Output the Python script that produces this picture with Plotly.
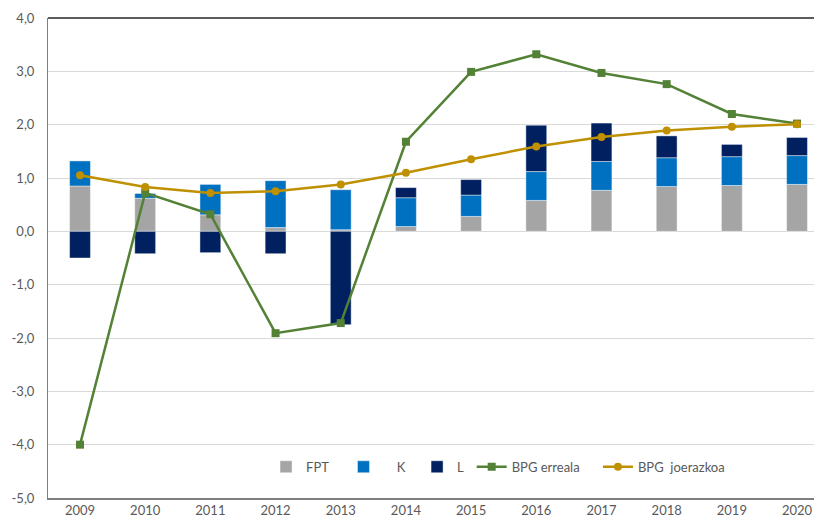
import plotly.graph_objects as go

years = ["2009", "2010", "2011", "2012", "2013", "2014", "2015", "2016", "2017", "2018", "2019", "2020"]
fpt = [0.85, 0.62, 0.31, 0.07, 0.03, 0.09, 0.28, 0.58, 0.77, 0.84, 0.86, 0.88]
k = [0.47, 0.09, 0.57, 0.88, 0.75, 0.54, 0.40, 0.54, 0.54, 0.54, 0.54, 0.54]
l = [-0.50, -0.42, -0.40, -0.42, -1.75, 0.19, 0.29, 0.87, 0.72, 0.41, 0.23, 0.34]
bpg_erreala = [-4.00, 0.72, 0.32, -1.91, -1.72, 1.68, 2.99, 3.32, 2.97, 2.76, 2.20, 2.02]
bpg_joerazkoa = [1.05, 0.83, 0.72, 0.75, 0.88, 1.10, 1.35, 1.59, 1.77, 1.89, 1.96, 2.01]
y_ticks = [-5, -4, -3, -2, -1, 0, 1, 2, 3, 4]
y_tick_labels = ["-5,0", "-4,0", "-3,0", "-2,0", "-1,0", "0,0", "1,0", "2,0", "3,0", "4,0"]

FONT = "Lato, 'Open Sans', sans-serif"
TXT = "#595959"
NB = "\u00a0"
bar_line = dict(color="rgba(255,255,255,0.55)", width=0.8)

fig = go.Figure()
fig.add_trace(go.Bar(x=years, y=fpt, name="FPT" + NB * 3, marker=dict(color="#A5A5A5", line=bar_line)))
fig.add_trace(go.Bar(x=years, y=k, name=NB * 4 + "K" + NB * 2, marker=dict(color="#0070C0", line=bar_line)))
fig.add_trace(go.Bar(x=years, y=l, name="L" + NB, marker=dict(color="#002060", line=bar_line)))
fig.add_trace(go.Scatter(x=years, y=bpg_erreala, name="BPG erreala" + NB * 4, mode="lines+markers",
                         line=dict(color="#538135", width=2.5),
                         marker=dict(symbol="square", size=8, color="#538135")))
fig.add_trace(go.Scatter(x=years, y=bpg_joerazkoa, name="BPG" + NB * 2 + "joerazkoa", mode="lines+markers",
                         line=dict(color="#BF9000", width=2.5),
                         marker=dict(symbol="circle", size=8, color="#BF9000")))

fig.update_layout(
    width=814, height=521,
    margin=dict(l=40, r=0, t=10, b=31),
    paper_bgcolor="white", plot_bgcolor="white",
    barmode="relative", bargap=0.68,
    separators=", ",
    font=dict(family=FONT, size=13, color=TXT),
    showlegend=True,
    legend=dict(orientation="h", x=0.2817, xanchor="left", y=0.065, yanchor="middle",
                bgcolor="rgba(0,0,0,0)", font=dict(family=FONT, size=13, color=TXT),
                traceorder="normal"),
    xaxis=dict(type="category", range=[-0.491, 11.383], showgrid=False,
               showline=True, linecolor="#7f7f7f", linewidth=1.5,
               ticks="", tickfont=dict(family=FONT, size=13, color=TXT)),
    yaxis=dict(range=[-5, 4], tickvals=y_ticks, ticktext=y_tick_labels,
               showgrid=True, gridcolor="#d9d9d9", gridwidth=1,
               zeroline=False, showline=True, linecolor="#7f7f7f", linewidth=1,
               ticks="", ticklabelstandoff=10,
               tickfont=dict(family=FONT, size=13, color=TXT)),
    shapes=[dict(type="line", xref="paper", yref="paper", x0=0, x1=1, y0=1, y1=1,
                 line=dict(color="#262626", width=1.5))],
)

fig.write_html("out.html")
